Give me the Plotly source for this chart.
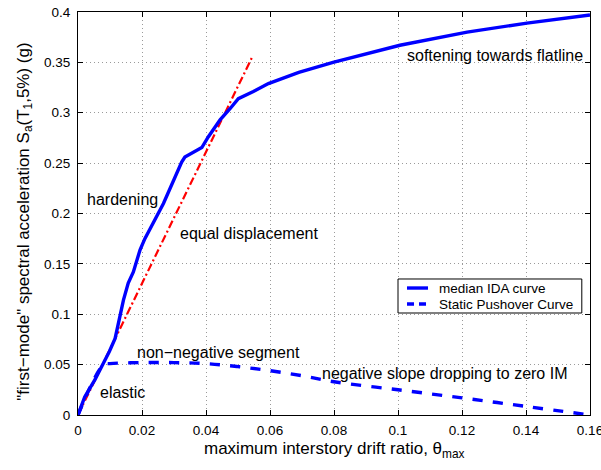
import plotly.graph_objects as go

# median IDA curve
ida_x = [0, 0.0021, 0.0053, 0.0079, 0.0098, 0.0116, 0.0131, 0.0142, 0.0157, 0.0173, 0.0194,
         0.0209, 0.0267, 0.0324, 0.0334, 0.0387, 0.0407, 0.0444, 0.0475, 0.0501, 0.0548,
         0.0595, 0.069, 0.0797, 0.1006, 0.1216, 0.1403, 0.16]
ida_y = [0, 0.018, 0.035, 0.051, 0.063, 0.076, 0.099, 0.114, 0.131, 0.142, 0.164,
         0.175, 0.210, 0.251, 0.256, 0.2655, 0.276, 0.293, 0.304, 0.314, 0.321,
         0.329, 0.340, 0.350, 0.367, 0.380, 0.389, 0.397]

# static pushover curve
spo_x = [0, 0.008, 0.01, 0.02, 0.03, 0.04, 0.05, 0.06, 0.07, 0.08, 0.1, 0.12, 0.14, 0.16]
spo_y = [0, 0.05, 0.051, 0.052, 0.052, 0.051, 0.048, 0.044, 0.039, 0.033, 0.025, 0.017, 0.0085, 0]

# equal displacement line
eq_x = [0, 0.0547]
eq_y = [0, 0.357]

x_ticks = [0, 0.02, 0.04, 0.06, 0.08, 0.1, 0.12, 0.14, 0.16]
y_ticks = [0, 0.05, 0.1, 0.15, 0.2, 0.25, 0.3, 0.35, 0.4]

labels = [
    ("softening towards flatline", 0.1584, 0.357, "right"),
    ("hardening", 0.0022, 0.214, "left"),
    ("equal displacement", 0.0312, 0.1805, "left"),
    ("non−negative segment", 0.0178, 0.0625, "left"),
    ("elastic", 0.0063, 0.0228, "left"),
    ("negative slope dropping to zero IM", 0.0756, 0.0407, "left"),
]

legend_names = ["median IDA curve", "Static Pushover Curve"]

FONT = "Liberation Sans, Arial, Helvetica, sans-serif"
BLUE = "#0000ff"

fig = go.Figure()
fig.add_trace(go.Scatter(x=eq_x, y=eq_y, mode="lines", showlegend=False,
                         line=dict(color="#ff0000", width=2.2, dash="8px,3px,2px,3px")))
fig.add_trace(go.Scatter(x=ida_x, y=ida_y, mode="lines", name=legend_names[0], showlegend=False,
                         line=dict(color=BLUE, width=3.4)))
fig.add_trace(go.Scatter(x=spo_x, y=spo_y, mode="lines", name=legend_names[1], showlegend=False,
                         line=dict(color=BLUE, width=3.4, dash="dash"), line_shape="spline"))

for txt, x, y, anchor in labels:
    fig.add_annotation(x=x, y=y, text=txt, showarrow=False, xanchor=anchor, yanchor="middle",
                       font=dict(size=16, color="black", family=FONT))

axis_common = dict(
    showline=True, linecolor="black", linewidth=1, mirror="ticks",
    ticks="inside", ticklen=5, tickcolor="black",
    showgrid=True, gridcolor="#9a9a9a", griddash="1px,3px", gridwidth=1,
    zeroline=False, tickfont=dict(size=13.5, color="black", family=FONT),
    ticklabeloverflow="allow", automargin=False,
)
fig.update_xaxes(range=[0, 0.1600001], tickvals=x_ticks, ticklabelstandoff=3, **axis_common)
fig.update_yaxes(range=[0, 0.4], tickvals=y_ticks, ticklabelstandoff=4, **axis_common)

fig.add_annotation(xref="paper", yref="paper", x=0.5, y=-0.054, xanchor="center", yanchor="top",
                   text="maximum interstory drift ratio, θ<sub>max</sub>", showarrow=False,
                   font=dict(size=17, color="black", family=FONT))
fig.add_annotation(xref="paper", yref="paper", x=-0.104, y=0.479, xanchor="center", yanchor="middle",
                   textangle=-90,
                   text="\"first−mode\" spectral acceleration S<sub>a</sub>(T<sub>1</sub>,5%) (g)",
                   showarrow=False, font=dict(size=17, color="black", family=FONT))

# legend box drawn in paper coordinates
fig.add_shape(type="rect", xref="paper", yref="paper", x0=0.625, x1=0.984, y0=0.2531, y1=0.3375,
              line=dict(color="black", width=1), fillcolor="white", layer="above")
fig.add_shape(type="line", xref="paper", yref="paper", x0=0.6426, x1=0.6836, y0=0.3151, y1=0.3151,
              line=dict(color=BLUE, width=3.4), layer="above")
fig.add_shape(type="line", xref="paper", yref="paper", x0=0.6426, x1=0.6836, y0=0.2754, y1=0.2754,
              line=dict(color=BLUE, width=3.4, dash="7px,5px"), layer="above")
for name, yy in zip(legend_names, [0.3151, 0.2754]):
    fig.add_annotation(xref="paper", yref="paper", x=0.7012, y=yy, xanchor="left", yanchor="middle",
                       text=name, showarrow=False, font=dict(size=13.5, color="black", family=FONT))

fig.update_layout(
    width=601, height=470,
    margin=dict(l=78, r=11, t=12, b=55, autoexpand=False),
    plot_bgcolor="white", paper_bgcolor="white",
    font=dict(family=FONT, color="black"),
    showlegend=False,
)

fig.write_html("out.html")
